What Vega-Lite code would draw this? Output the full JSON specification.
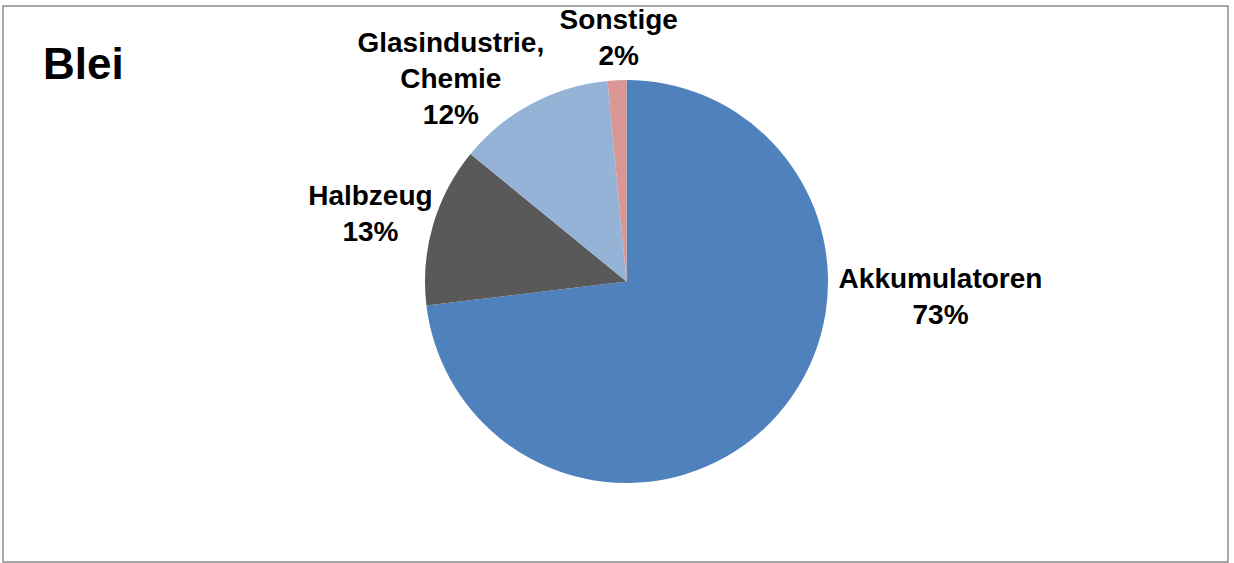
{
  "$schema": "https://vega.github.io/schema/vega-lite/v6.json",
  "autosize": "none",
  "width": 1225,
  "height": 556,
  "padding": {"left": 3, "top": 6, "right": 6, "bottom": 1},
  "background": "white",
  "view": {"stroke": "#8c8c8c", "strokeWidth": 1.5},
  "title": {
    "text": "Blei",
    "anchor": "start",
    "frame": "group",
    "orient": "top",
    "font": "Liberation Sans",
    "fontSize": 44,
    "fontWeight": "bold",
    "color": "#000000",
    "baseline": "alphabetic",
    "dx": 40,
    "dy": 121
  },
  "data": {
    "values": [
      {"category": "Akkumulatoren", "value": 73.1, "label": "Akkumulatoren\n73%"},
      {"category": "Halbzeug", "value": 12.8, "label": "Halbzeug\n13%"},
      {"category": "Glasindustrie, Chemie", "value": 12.6, "label": "Glasindustrie,\nChemie\n12%"},
      {"category": "Sonstige", "value": 1.5, "label": "Sonstige\n2%"}
    ]
  },
  "encoding": {
    "theta": {"field": "value", "type": "quantitative", "stack": true},
    "order": {"field": "value", "type": "quantitative", "sort": "descending"},
    "color": {
      "field": "category",
      "type": "nominal",
      "scale": {
        "domain": ["Akkumulatoren", "Halbzeug", "Glasindustrie, Chemie", "Sonstige"],
        "range": ["#4F81BD", "#595959", "#95B3D7", "#D99694"]
      },
      "legend": null
    }
  },
  "layer": [
    {
      "mark": {
        "type": "arc",
        "outerRadius": 201.5,
        "x": {"expr": "width/2 + 11"},
        "y": {"expr": "height/2 - 2.5"}
      }
    },
    {
      "mark": {
        "type": "text",
        "radius": 250,
        "x": {"expr": "width/2 + 11"},
        "y": {"expr": "height/2 - 2.5"},
        "lineBreak": "\n",
        "font": "Liberation Sans",
        "fontSize": 28,
        "fontWeight": "bold",
        "lineHeight": 36,
        "align": "center",
        "baseline": "middle",
        "dx": {"expr": "datum.category == 'Akkumulatoren' ? 127 : datum.category == 'Halbzeug' ? -16 : datum.category == 'Sonstige' ? 4 : -58"},
        "dy": {"expr": "datum.category == 'Akkumulatoren' ? -167 : datum.category == 'Halbzeug' ? -15 : datum.category == 'Sonstige' ? -11 : -17"}
      },
      "encoding": {
        "text": {"field": "label", "type": "nominal"},
        "color": {"value": "#000000"}
      }
    }
  ],
  "config": {
    "view": {"stroke": "#8c8c8c", "strokeWidth": 1.5}
  }
}
